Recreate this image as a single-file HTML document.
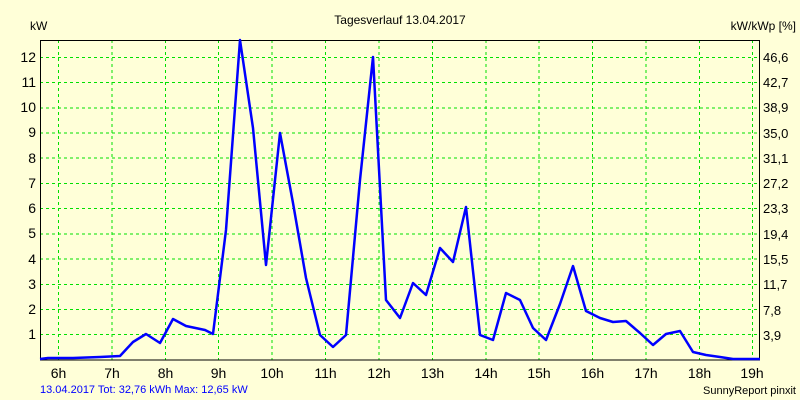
<!DOCTYPE html>
<html><head><meta charset="utf-8"><style>
body{margin:0;background:#ffffd8;}
svg{display:block;font-family:"Liberation Sans",sans-serif;}
</style></head><body>
<svg width="800" height="400" xmlns="http://www.w3.org/2000/svg">
<rect width="800" height="400" fill="#ffffd8"/>
<text x="400" y="24" font-size="12" text-anchor="middle">Tagesverlauf 13.04.2017</text>
<text x="30" y="30" font-size="12">kW</text>
<text x="796" y="30" font-size="12" text-anchor="end">kW/kWp [%]</text>
<g stroke="#00e000" stroke-dasharray="3,3" stroke-width="1">
<line x1="58.5" y1="40" x2="58.5" y2="360"/><line x1="112" y1="40" x2="112" y2="360"/><line x1="165.5" y1="40" x2="165.5" y2="360"/><line x1="218.5" y1="40" x2="218.5" y2="360"/><line x1="272" y1="40" x2="272" y2="360"/><line x1="325.5" y1="40" x2="325.5" y2="360"/><line x1="379" y1="40" x2="379" y2="360"/><line x1="432.5" y1="40" x2="432.5" y2="360"/><line x1="486" y1="40" x2="486" y2="360"/><line x1="539" y1="40" x2="539" y2="360"/><line x1="592.5" y1="40" x2="592.5" y2="360"/><line x1="646" y1="40" x2="646" y2="360"/><line x1="699.5" y1="40" x2="699.5" y2="360"/><line x1="752.5" y1="40" x2="752.5" y2="360"/>
<line x1="40" y1="334.5" x2="760" y2="334.5"/><line x1="40" y1="309.5" x2="760" y2="309.5"/><line x1="40" y1="284.5" x2="760" y2="284.5"/><line x1="40" y1="259" x2="760" y2="259"/><line x1="40" y1="234" x2="760" y2="234"/><line x1="40" y1="208.5" x2="760" y2="208.5"/><line x1="40" y1="183.5" x2="760" y2="183.5"/><line x1="40" y1="158" x2="760" y2="158"/><line x1="40" y1="133" x2="760" y2="133"/><line x1="40" y1="108" x2="760" y2="108"/><line x1="40" y1="82.5" x2="760" y2="82.5"/><line x1="40" y1="57.5" x2="760" y2="57.5"/>
</g>
<rect x="40.5" y="40.5" width="719" height="319.5" fill="none" stroke="#000"/>
<g font-size="14" text-anchor="end">
<text x="36" y="339">1</text><text x="36" y="314">2</text><text x="36" y="289">3</text><text x="36" y="264">4</text><text x="36" y="238">5</text><text x="36" y="213">6</text><text x="36" y="188">7</text><text x="36" y="163">8</text><text x="36" y="137">9</text><text x="36" y="112">10</text><text x="36" y="87">11</text><text x="36" y="62">12</text>
</g>
<g font-size="13">
<text x="763" y="340">3,9</text><text x="763" y="315">7,8</text><text x="763" y="289">11,7</text><text x="763" y="264">15,5</text><text x="763" y="239">19,4</text><text x="763" y="213">23,3</text><text x="763" y="188">27,2</text><text x="763" y="163">31,1</text><text x="763" y="138">35,0</text><text x="763" y="112">38,9</text><text x="763" y="87">42,7</text><text x="763" y="62">46,6</text>
</g>
<g font-size="14" text-anchor="middle">
<text x="58.5" y="378">6h</text><text x="112" y="378">7h</text><text x="165.5" y="378">8h</text><text x="218.5" y="378">9h</text><text x="272" y="378">10h</text><text x="325.5" y="378">11h</text><text x="379" y="378">12h</text><text x="432.5" y="378">13h</text><text x="486" y="378">14h</text><text x="539" y="378">15h</text><text x="592.5" y="378">16h</text><text x="646" y="378">17h</text><text x="699.5" y="378">18h</text><text x="752" y="378">19h</text>
</g>
<text x="40" y="393" font-size="11" fill="#0000ff">13.04.2017 Tot: 32,76 kWh Max: 12,65 kW</text>
<text x="796" y="394" font-size="11" text-anchor="end">SunnyReport pinxit</text>
<polyline fill="none" stroke="#0000ff" stroke-width="2.5" stroke-linejoin="round" points="40,359 48,358 73,358 100,357 120,356 133,342 146,334 160,343 173,319 186,326 205,330 213,334 226,230 240,40 253,128 266,265 280,133 293,203 306,278 320,335 333,347 346,335 360,180 373,57 386,300 400,318 413,283 426,295 440,248 453,262 466,207 480,335 493,340 506,293 520,300 533,328 546,340 560,304 573,266 586,311 600,318 613,322 626,321 640,333 653,345 666,334 680,331 693,352 706,355 720,357 733,359 760,359"/>
</svg>
</body></html>
